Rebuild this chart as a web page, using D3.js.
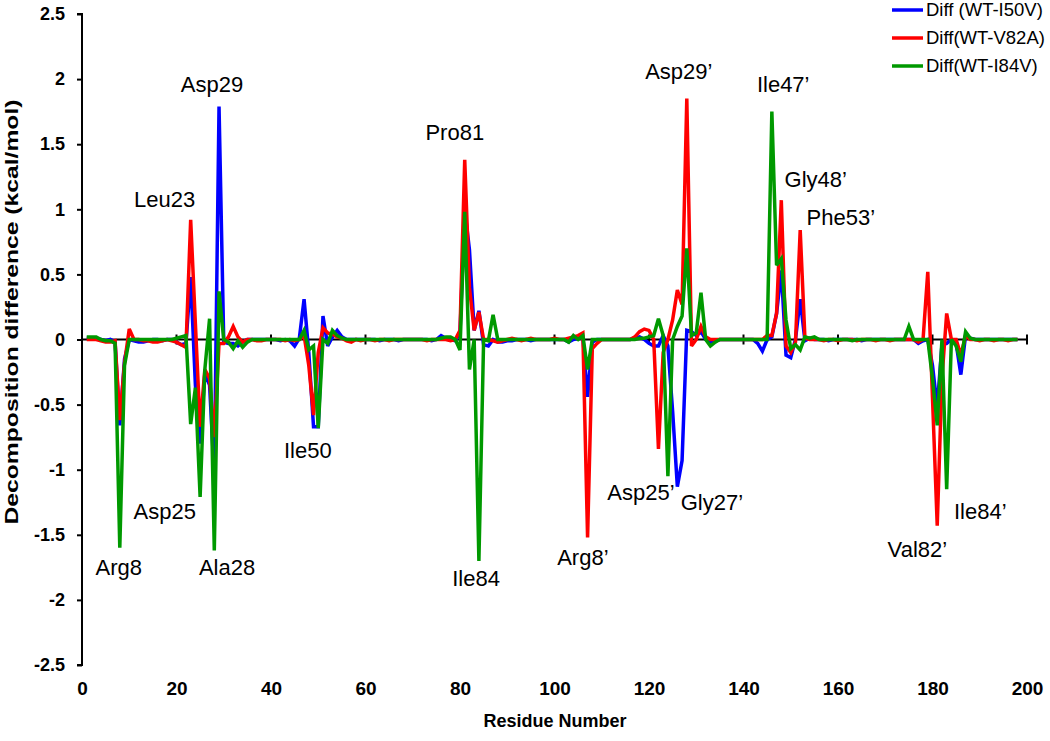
<!DOCTYPE html>
<html><head><meta charset="utf-8">
<script src="https://d3js.org/d3.v7.min.js"></script>
<style>
body{margin:0;background:#fff;}
text{font-family:Arial,"Liberation Sans",sans-serif;fill:#000;}
</style>
</head><body>
<svg id="chart" width="1050" height="741"></svg>
<script>
// ---------- data ----------
const residues = d3.range(1, 199);

const diffI50V = [
 0.01, 0.01, 0.01, 0.00,-0.01, 0.00,-0.02,-0.66,-0.15, 0.00,
-0.01,-0.02,-0.02,-0.01, 0.00, 0.00,-0.01, 0.00, 0.00,-0.02,
-0.04,-0.03, 0.48,-0.35,-0.80,-0.26,-0.35,-1.05, 1.79,-0.02,
-0.03,-0.03,-0.05,-0.02, 0.00, 0.00, 0.00, 0.00, 0.00, 0.00,
 0.00,-0.01, 0.00,-0.01,-0.05, 0.01, 0.31,-0.10,-0.67,-0.67,
 0.18,-0.05, 0.02, 0.07, 0.02, 0.00, 0.00, 0.00, 0.00, 0.00,
 0.00, 0.00,-0.01, 0.00, 0.00, 0.00,-0.01, 0.00, 0.00, 0.00,
 0.00, 0.00, 0.00,-0.01, 0.00, 0.03, 0.01, 0.00,-0.01, 0.05,
 1.00, 0.69, 0.07, 0.22,-0.04,-0.05, 0.00,-0.02,-0.02,-0.01,
-0.01, 0.00, 0.00, 0.00,-0.01, 0.00, 0.00, 0.00, 0.00, 0.00,
 0.00, 0.00,-0.02, 0.00, 0.01, 0.02,-0.44,-0.02, 0.00, 0.00,
 0.00, 0.00, 0.00, 0.00, 0.00, 0.00, 0.01, 0.02, 0.00,-0.03,
-0.05,-0.05, 0.03,-0.05,-0.55,-1.13,-0.93, 0.07, 0.06, 0.03,
 0.06, 0.00,-0.02,-0.01, 0.00, 0.00, 0.00, 0.00, 0.00, 0.00,
 0.00, 0.00,-0.03,-0.09, 0.00, 0.02, 0.20, 0.53,-0.12,-0.14,
 0.00, 0.31,-0.01, 0.01, 0.00, 0.00, 0.00,-0.01, 0.00, 0.00,
 0.00, 0.00, 0.00, 0.00,-0.01, 0.00, 0.00, 0.00, 0.00, 0.00,
 0.00, 0.00, 0.00, 0.00, 0.00, 0.00,-0.03,-0.01, 0.00,-0.20,
-0.52,-0.04,-0.03, 0.00,-0.03,-0.27, 0.03, 0.01, 0.00, 0.00,
 0.00, 0.00, 0.00, 0.00, 0.00, 0.00, 0.00, 0.00
];

const diffV82A = [
 0.00, 0.00, 0.00,-0.01,-0.02,-0.02,-0.01,-0.62,-0.18, 0.08,
 0.00, 0.00,-0.01,-0.01,-0.02,-0.02,-0.01, 0.00,-0.01,-0.02,
-0.04,-0.06, 0.92, 0.12,-0.67,-0.23,-0.30,-0.75,-0.03,-0.03,
 0.02, 0.10, 0.02,-0.02, 0.00, 0.00,-0.01,-0.01, 0.00, 0.00,
 0.00, 0.00,-0.01, 0.00,-0.01, 0.00, 0.03,-0.20,-0.58,-0.10,
 0.09, 0.05, 0.04, 0.02, 0.01,-0.01,-0.02, 0.00,-0.01, 0.00,
 0.00,-0.01, 0.00, 0.00,-0.01, 0.00, 0.00, 0.00, 0.00, 0.00,
 0.00, 0.00,-0.01, 0.00, 0.00, 0.00, 0.00,-0.01, 0.00, 0.07,
 1.38, 0.40, 0.07, 0.21, 0.00, 0.00,-0.01,-0.02,-0.01, 0.00,
 0.01, 0.00,-0.01, 0.00, 0.01, 0.00, 0.00, 0.00, 0.00, 0.01,
 0.00, 0.00, 0.01, 0.02, 0.03, 0.05,-1.52,-0.07,-0.03, 0.00,
 0.00, 0.00, 0.00, 0.00, 0.00, 0.00, 0.02, 0.06, 0.08, 0.07,
 0.00,-0.84,-0.10, 0.00, 0.15, 0.38, 0.27, 1.85,-0.05, 0.00,
 0.10, 0.02, 0.00, 0.00, 0.00, 0.00, 0.00, 0.00, 0.00, 0.00,
 0.00, 0.00, 0.00, 0.00, 0.03, 0.03, 0.20, 1.07,-0.05,-0.10,
-0.02, 0.84, 0.01, 0.00, 0.00, 0.00,-0.01, 0.00, 0.00,-0.01,
 0.00, 0.00, 0.00,-0.01, 0.00, 0.00, 0.00,-0.01, 0.00, 0.00,
-0.01, 0.00, 0.00, 0.00, 0.00, 0.00,-0.02, 0.00, 0.52,-0.45,
-1.43,-0.30, 0.20, 0.00, 0.00,-0.12, 0.03, 0.00, 0.00,-0.01,
 0.00, 0.00,-0.01, 0.00, 0.00,-0.01, 0.00, 0.00
];

const diffI84V = [
 0.02, 0.02, 0.02, 0.00,-0.01,-0.01,-0.03,-1.60,-0.20, 0.00,
 0.00, 0.00, 0.00, 0.00, 0.00, 0.00, 0.00, 0.00, 0.00, 0.01,
 0.02, 0.03,-0.65,-0.37,-1.21,-0.23, 0.16,-1.62, 0.37, 0.00,
-0.02,-0.07,-0.01,-0.06,-0.02, 0.00, 0.00, 0.00, 0.00, 0.00,
 0.00, 0.00, 0.00, 0.00, 0.00, 0.00, 0.07,-0.08,-0.05,-0.68,
 0.00,-0.03, 0.07, 0.03, 0.01, 0.00, 0.00, 0.00, 0.00, 0.00,
 0.00, 0.00, 0.00, 0.00, 0.00, 0.00, 0.00, 0.00, 0.00, 0.00,
 0.00, 0.00, 0.00, 0.00, 0.00, 0.01, 0.02, 0.02, 0.00,-0.08,
 0.98,-0.23, 0.00,-1.70, 0.00,-0.01, 0.19, 0.00, 0.00, 0.00,
 0.00, 0.00, 0.00, 0.00, 0.00, 0.00, 0.00, 0.00, 0.00, 0.00,
 0.00, 0.00,-0.02, 0.03, 0.00, 0.03,-0.23, 0.00, 0.00, 0.00,
 0.00, 0.00, 0.00, 0.00, 0.00, 0.00, 0.00, 0.01, 0.01, 0.02,
 0.03, 0.16, 0.03,-1.05, 0.00, 0.10, 0.18, 0.70, 0.03, 0.05,
 0.36, 0.00,-0.05,-0.02, 0.00, 0.00, 0.00, 0.00, 0.00, 0.00,
 0.00, 0.00, 0.00, 0.00, 0.00, 1.75, 0.57, 0.62, 0.15,-0.07,
-0.04,-0.08, 0.02, 0.01, 0.02, 0.00, 0.00, 0.00, 0.00, 0.00,
 0.00, 0.00,-0.01, 0.00, 0.00, 0.00, 0.00, 0.00, 0.00, 0.00,
 0.00, 0.00, 0.00, 0.00, 0.10, 0.00, 0.00, 0.00, 0.00,-0.30,
-0.66, 0.00,-1.15, 0.00,-0.05,-0.17, 0.06, 0.01, 0.00, 0.00,
 0.00, 0.00, 0.00, 0.00, 0.00, 0.00, 0.00, 0.00
];

const seriesNames = ["Diff (WT-I50V)", "Diff(WT-V82A)", "Diff(WT-I84V)"];
const seriesColors = ["#0000ff", "#ff0000", "#009900"];

const xTicks = [0, 20, 40, 60, 80, 100, 120, 140, 160, 180, 200];
const yTicks = [-2.5, -2, -1.5, -1, -0.5, 0, 0.5, 1, 1.5, 2, 2.5];

// annotation labels (data units: residue, kcal/mol)
const labelText = ["Asp29","Leu23","Asp25","Arg8","Ala28","Ile50","Pro81","Ile84","Arg8\u2019",
  "Asp29\u2019","Asp25\u2019","Gly27\u2019","Ile47\u2019","Gly48\u2019","Phe53\u2019","Val82\u2019","Ile84\u2019"];
const labelX = [27.5, 17.5, 17.5, 7.8, 30.7, 47.8, 78.9, 83.4, 106.0,
  126.3, 118.3, 133.3, 148.4, 155.3, 160.6, 176.8, 190.1];
const labelY = [1.90, 1.02, -1.38, -1.81, -1.81, -0.91, 1.53, -1.89, -1.73,
  2.00, -1.23, -1.31, 1.90, 1.17, 0.88, -1.67, -1.375];

// ---------- drawing ----------
const svg = d3.select("#chart");
const x = d3.scaleLinear().domain([0, 200]).range([82, 1027]);
const y = d3.scaleLinear().domain([-2.5, 2.5]).range([665, 14]);
const FONT = "Arial, 'Liberation Sans', sans-serif";

// y axis
const yAxis = d3.axisLeft(y).tickValues(yTicks).tickSize(5).tickPadding(12)
  .tickFormat(d => String(d));
const gy = svg.append("g").attr("transform", `translate(${x(0)},0)`).call(yAxis);
gy.select(".domain").attr("stroke", "#000").attr("stroke-width", 2).attr("d", `M-5,${y(2.5)}H0V${y(-2.5)}H-5`);
gy.selectAll(".tick line").attr("stroke", "#000").attr("stroke-width", 2);
gy.selectAll(".tick text").attr("font-size", 18).attr("font-weight", "bold")
  .attr("font-family", FONT).attr("fill", "#000");

// zero axis line with crossing ticks
const gz = svg.append("g").attr("transform", `translate(0,${y(0)})`);
gz.append("line").attr("x1", x(0)).attr("x2", x(200)).attr("stroke", "#000").attr("stroke-width", 2);
gz.selectAll("line.tk").data(xTicks.filter(d => d > 0)).enter().append("line")
  .attr("class", "tk").attr("x1", d => x(d)).attr("x2", d => x(d))
  .attr("y1", -5).attr("y2", 5).attr("stroke", "#000").attr("stroke-width", 2);

// x tick labels at bottom
const xAxis = d3.axisBottom(x).tickValues(xTicks).tickSize(0).tickPadding(0)
  .tickFormat(d => String(d));
const gx = svg.append("g").attr("transform", `translate(0,681)`).call(xAxis);
gx.select(".domain").remove();
gx.selectAll(".tick text").attr("font-size", 19).attr("font-weight", "bold")
  .attr("font-family", FONT).attr("fill", "#000")
  .attr("dy", "0.71em");

// series
const series = [diffI50V, diffV82A, diffI84V];
const line = d3.line().x((d, i) => x(residues[i])).y(d => y(d));
svg.append("g").selectAll("path").data(series).enter().append("path")
  .attr("d", d => line(d)).attr("fill", "none")
  .attr("stroke", (d, i) => seriesColors[i]).attr("stroke-width", 3.5)
  .attr("stroke-linejoin", "miter").attr("stroke-miterlimit", 3);

// annotations
svg.append("g").selectAll("text").data(labelText).enter().append("text")
  .attr("x", (d, i) => x(labelX[i])).attr("y", (d, i) => y(labelY[i]))
  .attr("text-anchor", "middle").attr("font-size", 22).text(d => d);

// axis titles
svg.append("text").attr("x", 555).attr("y", 727).attr("text-anchor", "middle")
  .attr("font-size", 18).attr("font-weight", "bold").text("Residue Number");
svg.append("text").attr("transform", "translate(18,312) rotate(-90)")
  .attr("text-anchor", "middle").attr("font-size", 19).attr("font-weight", "bold")
  .attr("textLength", 425).attr("lengthAdjust", "spacingAndGlyphs")
  .text("Decomposition difference (kcal/mol)");

// legend
const legY = [10, 38, 66];
const lg = svg.append("g");
seriesNames.forEach((name, i) => {
  lg.append("line").attr("x1", 892).attr("x2", 923).attr("y1", legY[i]).attr("y2", legY[i])
    .attr("stroke", seriesColors[i]).attr("stroke-width", 3.5);
  lg.append("text").attr("x", 926).attr("y", legY[i] + 6).attr("font-size", 18.5).text(name);
});
</script>
</body></html>
